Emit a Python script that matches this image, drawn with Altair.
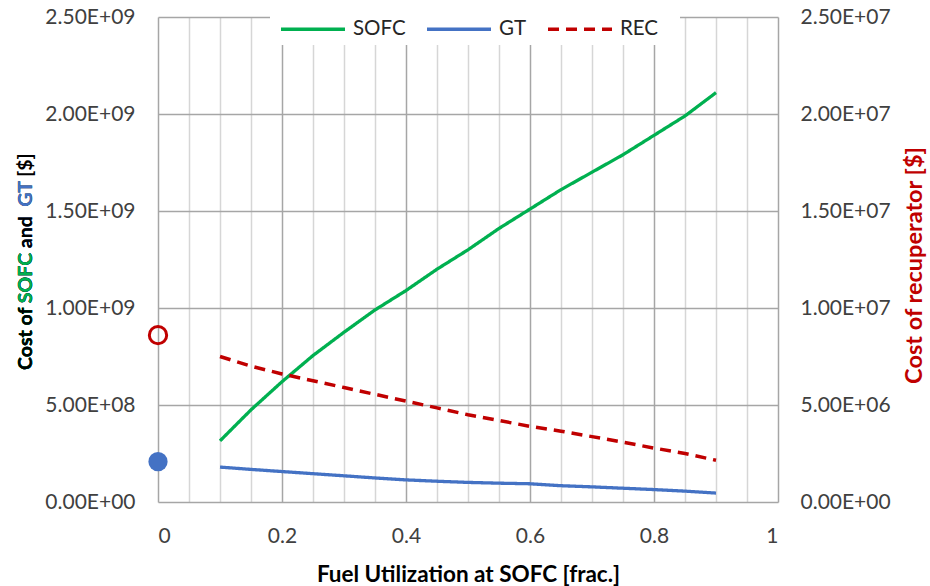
import altair as alt
import pandas as pd

# ---- data ----
fu = [0.1, 0.15, 0.2, 0.25, 0.3, 0.35, 0.4, 0.45, 0.5, 0.55, 0.6, 0.65, 0.7, 0.75, 0.8, 0.85, 0.9]
sofc = [3.15e8, 4.75e8, 6.2e8, 7.55e8, 8.75e8, 9.9e8, 1.09e9, 1.20e9, 1.30e9, 1.41e9, 1.51e9,
        1.61e9, 1.70e9, 1.79e9, 1.89e9, 1.99e9, 2.11e9]
gt = [1.80e8, 1.68e8, 1.57e8, 1.46e8, 1.35e8, 1.24e8, 1.14e8, 1.07e8, 1.01e8, 9.7e7, 9.4e7,
      8.4e7, 7.8e7, 7.1e7, 6.4e7, 5.6e7, 4.6e7]
rec = [7.5e6, 7.0e6, 6.6e6, 6.25e6, 5.9e6, 5.55e6, 5.2e6, 4.85e6, 4.5e6, 4.2e6, 3.9e6,
       3.65e6, 3.37e6, 3.08e6, 2.78e6, 2.5e6, 2.15e6]
marker_x = [0]
gt_marker = [2.08e8]
rec_marker = [8.6e6]

series_names = ["SOFC", "GT", "REC"]
series_colors = ["#00B050", "#4472C4", "#C00000"]
series_dash = [[1, 0], [1, 0], [11, 7]]

x_ticks = [0, 0.05, 0.1, 0.15, 0.2, 0.25, 0.3, 0.35, 0.4, 0.45, 0.5,
           0.55, 0.6, 0.65, 0.7, 0.75, 0.8, 0.85, 0.9, 0.95, 1]
left_ticks = [0, 5e8, 1e9, 1.5e9, 2e9, 2.5e9]
right_ticks = [0, 5e6, 1e7, 1.5e7, 2e7, 2.5e7]

left_title_parts = ["Cost of ", "SOFC", " and\u00a0 ", "GT", " [$]"]
left_title_colors = ["black", "#00B050", "black", "#4472C4", "black"]
right_title = "Cost of recuperator [$]"
x_title = "Fuel Utilization at SOFC [frac.]"

FONT = "Lato"
TICK_FS = 21
LEG_FS = 20.5

n = len(fu)
df_left = pd.DataFrame({"fu": fu * 2, "value": sofc + gt, "series": ["SOFC"] * n + ["GT"] * n})
df_rec = pd.DataFrame({"fu": fu, "value": rec, "series": ["REC"] * n})
df_gtm = pd.DataFrame({"fu": marker_x, "value": gt_marker})
df_recm = pd.DataFrame({"fu": marker_x, "value": rec_marker})
one = pd.DataFrame({"k": [0]})

sci = ("datum.value == 0 ? '0.00E+00' : "
       "format(datum.value / pow(10, floor(log(datum.value) / LN10 + 1e-6)), '.2f') + 'E+' + "
       "format(floor(log(datum.value) / LN10 + 1e-6), '02d')")

major_test = "round(datum.value * 20) % 4 == 0"
x_axis = alt.Axis(
    values=x_ticks, format=".2~f",
    labelExpr=f"{major_test} ? datum.label : ''",
    gridColor={"condition": {"test": major_test, "value": "#A6A6A6"}, "value": "#D6D6D6"},
    gridWidth=1.5, grid=True, domain=False, ticks=False, tickSize=0,
    labelPadding=23, title=x_title, titlePadding=17, titleFontSize=22.5,
)


def xenc():
    return alt.X("fu:Q", scale=alt.Scale(domain=[0, 1], nice=False), axis=x_axis)


left_y = alt.Y(
    "value:Q",
    scale=alt.Scale(domain=[0, 2.5e9], nice=False),
    axis=alt.Axis(values=left_ticks, labelExpr=sci, orient="left", title=None, grid=True,
                  gridColor="#A6A6A6", gridWidth=1.5, domain=False, ticks=False, tickSize=0,
                  labelPadding=23),
)
right_y = alt.Y(
    "value:Q",
    scale=alt.Scale(domain=[0, 2.5e7], nice=False),
    axis=alt.Axis(values=right_ticks, labelExpr=sci, orient="right", title=right_title,
                  titleColor="#C00000", titleAngle=270, titleBaseline="top", titlePadding=12,
                  titleFontSize=23.5, titleY=248, grid=False, domain=False, ticks=False,
                  tickSize=0, labelPadding=22),
)

legend = alt.Legend(
    title=None, orient="none", direction="horizontal", legendX=121, legendY=-22,
    padding=0, symbolType="stroke", symbolSize=4096,
    symbolStrokeWidth=3.5, labelFont=FONT, labelFontSize=LEG_FS, labelColor="#262626",
    labelOffset=6, columnPadding=14,
)
color = alt.Color("series:N", scale=alt.Scale(domain=series_names, range=series_colors), legend=legend)
dash = alt.StrokeDash("series:N", scale=alt.Scale(domain=series_names, range=series_dash), legend=legend)

# white box behind the legend (hides the grid there, as in the reference)
legend_box = alt.Chart(one).mark_rect(color="white").encode(
    x=alt.value(112), x2=alt.value(522), y=alt.value(-12), y2=alt.value(28))

left_lines = alt.Chart(df_left).mark_line(strokeWidth=3.3).encode(
    x=xenc(), y=left_y, color=color, strokeDash=dash, detail="series:N")
gt_point = alt.Chart(df_gtm).mark_point(filled=True, size=370, color="#4472C4", opacity=1).encode(
    x=xenc(), y=left_y)

# rotated, multi-colour left title: stacked prefixes so every coloured word sits exactly in place
title_layers = []
for i in range(len(left_title_parts), 0, -1):
    txt = "".join(left_title_parts[:i])
    title_layers.append(
        alt.Chart(one).mark_text(
            text=txt, color=left_title_colors[i - 1], font=FONT, fontSize=19.5, fontWeight="bold",
            angle=270, align="left", baseline="middle",
        ).encode(x=alt.value(-132), y=alt.value(353))
    )

left = alt.layer(legend_box, left_lines, gt_point, *title_layers)

rec_line = alt.Chart(df_rec).mark_line(strokeWidth=3.5).encode(
    x=xenc(), y=right_y, color=color, strokeDash=dash)
rec_point = alt.Chart(df_recm).mark_point(filled=False, size=300, color="#C00000",
                                          strokeWidth=3, opacity=1).encode(x=xenc(), y=right_y)
right = alt.layer(rec_line, rec_point)

chart = alt.layer(left, right).resolve_scale(y="independent").properties(
    width=620, height=485,
    autosize=alt.AutoSizeParams(type="none"),
    padding={"left": 158, "top": 17, "right": 152, "bottom": 84},
    background="white",
).configure_view(stroke=None).configure_axis(
    labelFont=FONT, labelFontSize=TICK_FS, labelColor="#404040",
    titleFont=FONT, titleFontWeight="bold", titleColor="black",
)

chart.save("out.html", embed_options={"renderer": "svg", "actions": False})
